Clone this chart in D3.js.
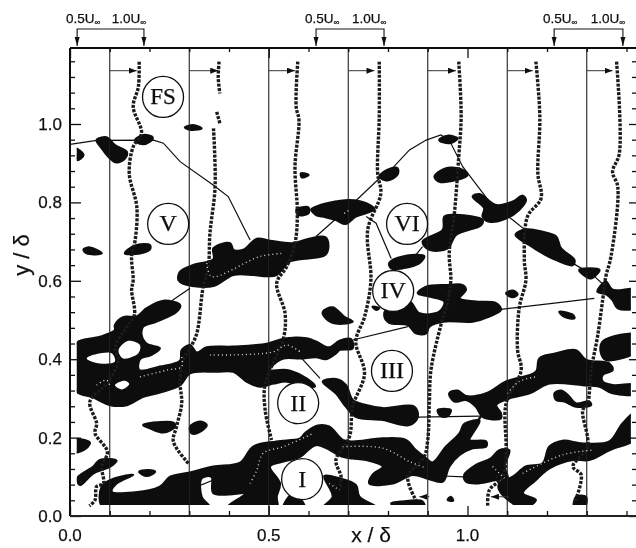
<!DOCTYPE html>
<html>
  <head>
    <meta charset="utf-8" />
    <title>Vorticity contours</title>
    <style>
      html, body { margin: 0; padding: 0; background: #fff; }
      svg { display: block; }
      text { font-family: "Liberation Sans", Arial, sans-serif; fill: #111; stroke: #111; stroke-width: 0.25; }
    </style>
  </head>
  <body>
  <div id="container"></div>
  <script src="https://cdn.jsdelivr.net/npm/d3@7"></script>
  <script type="text/javascript">

    var width = 636;
    var height = 548;

    // tick labels
    var xLabels = [0, 0.5, 1.0];
    var yLabels = [0, 0.2, 0.4, 0.6, 0.8, 1.0];
    var xMinor = [0.1, 0.2, 0.3, 0.4, 0.6, 0.7, 0.8, 0.9, 1.1, 1.2, 1.3, 1.4];
    var yMinor = [0.04, 0.08, 0.12, 0.16, 0.24, 0.28, 0.32, 0.36, 0.44, 0.48, 0.52, 0.56, 0.64, 0.68, 0.72, 0.76, 0.84, 0.88, 0.92, 0.96, 1.04, 1.08, 1.12, 1.16];

    // zero velocity station of each profile, also the thin vertical lines
    var stations = [0.1, 0.3, 0.5, 0.7, 0.9, 1.1, 1.3];
    // where the free stream arrow of each station ends, at y = 1.136
    var arrowEnds = [0.168, 0.373, 0.566, 0.766, 0.971, 1.164, 1.365];
    var arrowY = 1.136;
    // reversed flow arrows near the wall
    var wallArrows = [[0.904, 0.879], [1.105, 1.059]];
    var wallArrowY = 0.049;

    // velocity scale brackets above the plot: 0.5U, 1.0U
    var brackets = [[0.018, 0.186], [0.619, 0.790], [1.218, 1.391]];

    // region labels
    var regions = ['FS', 'V', 'VI', 'IV', 'III', 'II', 'I'];
    var regionX = [0.234, 0.247, 0.848, 0.813, 0.810, 0.574, 0.584];
    var regionY = [1.069, 0.745, 0.745, 0.574, 0.370, 0.288, 0.094];

    // velocity profiles
    var profile1 = [[.174,1.159],[.172,1.095],[.159,1.044],[.180,.976],[.159,.942],[.149,.874],[.168,.789],[.164,.704],[.155,.662],[.159,.602],[.155,.577],[.162,.513],[.143,.483],[.113,.428],[.122,.398],[.092,.338],[.050,.292],[.067,.236],[.063,.211],[.094,.164],[.080,.126],[.084,.083],[.067,.075],[.063,.041],[.049,.026]];
    var profile2a = [[.375,1.159],[.373,1.117],[.377,1.078]];
    var profile2b = [[.369,1.031],[.377,1.002]];
    var profile2c = [[.361,.989],[.365,.840],[.352,.721],[.348,.636],[.335,.585],[.319,.466],[.302,.428],[.281,.389],[.277,.338],[.281,.287],[.268,.228],[.260,.190],[.298,.134]];
    var profile3 = [[.573,1.159],[.569,1.044],[.576,1.010],[.566,.891],[.572,.772],[.566,.696],[.545,.636],[.520,.594],[.541,.517],[.537,.453],[.491,.338],[.491,.270],[.507,.194]];
    var profile4 = [[.778,1.159],[.778,1.019],[.774,.874],[.782,.823],[.749,.730],[.757,.602],[.741,.508],[.719,.445],[.741,.364],[.711,.279],[.703,.202],[.669,.143],[.682,.100],[.678,.066]];
    var profile5 = [[.978,1.159],[.984,1.019],[.978,.917],[.967,.772],[.954,.670],[.958,.602],[.950,.547],[.933,.487],[.908,.372],[.904,.287],[.900,.194],[.891,.151],[.850,.100],[.870,.041]];
    var profile6 = [[1.172,1.159],[1.182,1.019],[1.177,.874],[1.185,.810],[1.151,.764],[1.143,.653],[1.147,.602],[1.130,.530],[1.126,.423],[1.135,.372],[1.097,.287],[1.097,.168],[1.089,.100],[1.055,.066],[1.051,.024]];
    var profile7 = [[1.375,1.159],[1.382,.925],[1.365,.878],[1.378,.840],[1.361,.662],[1.348,.611],[1.340,.551],[1.327,.457],[1.311,.372],[1.302,.287],[1.290,.270],[1.302,.177],[1.265,.126],[1.286,.105],[1.269,.032]];

    // thin interface lines between the regions
    var lineFS = [[0,.948],[.067,.958],[.210,.959],[.235,.951],[.277,.904],[.361,.844],[.398,.815],[.453,.704]];
    var lineVI = [[.619,.713],[.703,.789],[.774,.857],[.799,.874],[.854,.934],[.896,.959],[.933,.972],[.954,.959],[.988,.891],[1.055,.802],[1.114,.755],[1.156,.721],[1.273,.640],[1.315,.615],[1.348,.585]];
    var lineVIb = [[.745,.764],[.770,.747],[.808,.657]];
    var lineVIc = [[.887,.687],[.870,.666]];
    var lineV = [[.256,.549],[.302,.581]];
    var lineIVa = [[.711,.449],[.850,.483]];
    var lineIVb = [[1.084,.527],[1.319,.555]];
    var lineIIIa = [[.875,.252],[1.030,.255]];
    var lineIIIb = [[.938,.102],[.992,.100]];
    var lineIIIc = [[1.038,.262],[.996,.194]];
    var lineII = [[.583,.402],[.629,.351]];
    var lineI = [[.310,.071],[.361,.092]];

    // vorticity contours, large bands
    var bandLeft = [[.017,.442],[.075,.457],[.113,.474],[.113,.487],[.134,.507],[.168,.509],[.193,.530],[.235,.549],[.277,.538],[.268,.521],[.218,.496],[.184,.483],[.180,.462],[.193,.439],[.226,.428],[.205,.411],[.176,.400],[.174,.372],[.226,.381],[.277,.396],[.281,.423],[.302,.436],[.319,.417],[.344,.430],[.411,.432],[.495,.439],[.537,.452],[.595,.453],[.619,.445],[.652,.430],[.678,.447],[.707,.451],[.711,.428],[.679,.424],[.669,.415],[.644,.400],[.619,.405],[.579,.402],[.537,.402],[.507,.381],[.503,.372],[.545,.372],[.595,.351],[.616,.330],[.579,.334],[.545,.343],[.512,.338],[.478,.330],[.444,.343],[.411,.368],[.369,.368],[.302,.364],[.277,.334],[.226,.315],[.184,.304],[.143,.283],[.101,.283],[.055,.304],[.017,.317],[.000,.380]];
    var bandLower = [[.080,.075],[.113,.096],[.159,.105],[.117,.083],[.105,.062],[.159,.060],[.226,.075],[.252,.100],[.302,.111],[.361,.126],[.428,.136],[.461,.177],[.520,.190],[.579,.198],[.591,.211],[.621,.230],[.652,.228],[.686,.194],[.711,.190],[.787,.198],[.845,.194],[.870,.168],[.896,.147],[.912,.136],[.946,.177],[.980,.211],[.992,.235],[1.030,.243],[1.013,.211],[1.005,.194],[1.047,.190],[1.047,.177],[1.013,.173],[.980,.156],[.954,.126],[.938,.088],[.904,.094],[.862,.105],[.812,.083],[.753,.083],[.761,.105],[.787,.126],[.745,.143],[.711,.147],[.686,.151],[.619,.181],[.579,.151],[.537,.139],[.503,.126],[.528,.083],[.520,.049],[.520,.020],[.394,.020],[.432,.049],[.444,.058],[.361,.058],[.356,.100],[.331,.096],[.331,.049],[.352,.020],[.084,.020]];
    var bandUpper = [[.277,.623],[.310,.640],[.361,.655],[.361,.683],[.403,.696],[.411,.679],[.436,.679],[.470,.707],[.503,.702],[.562,.696],[.604,.708],[.642,.711],[.650,.691],[.642,.666],[.553,.649],[.520,.615],[.495,.612],[.461,.615],[.411,.615],[.361,.587],[.293,.590],[.273,.602]];
    var bandIII = [[.636,.343],[.669,.349],[.694,.334],[.711,.296],[.745,.283],[.787,.275],[.866,.279],[.875,.253],[.854,.232],[.787,.245],[.719,.253],[.694,.279],[.669,.313]];
    var bandIV = [[.795,.526],[.854,.547],[.879,.517],[.929,.521],[.942,.547],[.904,.560],[.875,.568],[.896,.585],[.946,.589],[.988,.589],[.996,.577],[.980,.555],[1.021,.547],[1.072,.543],[1.084,.526],[1.055,.509],[1.013,.496],[.938,.496],[.904,.483],[.896,.466],[.870,.466],[.850,.487],[.803,.493],[.791,.509]];
    var bandRight = [[.954,.313],[.975,.320],[.996,.306],[1.047,.313],[1.097,.343],[1.172,.368],[1.181,.402],[1.223,.415],[1.273,.423],[1.298,.398],[1.357,.389],[1.365,.372],[1.340,.360],[1.340,.343],[1.365,.334],[1.430,.334],[1.430,.313],[1.365,.313],[1.332,.330],[1.290,.334],[1.206,.338],[1.156,.313],[1.105,.300],[1.072,.283],[1.084,.262],[1.084,.249],[1.038,.253],[1.021,.279],[.996,.296],[.967,.292]];
    var bandWall = [[1.080,.083],[1.114,.100],[1.147,.126],[1.189,.134],[1.206,.177],[1.239,.192],[1.290,.185],[1.357,.190],[1.390,.236],[1.430,.270],[1.430,.202],[1.357,.168],[1.306,.143],[1.265,.143],[1.206,.122],[1.172,.092],[1.139,.058],[1.172,.041],[1.139,.020],[1.114,.032],[1.080,.066]];

    // vorticity contours, smaller patches
    var patches = [
      [[.067,.959],[.092,.966],[.113,.946],[.143,.929],[.138,.912],[.117,.902],[.096,.917],[.080,.938]],
      [[.164,.959],[.185,.972],[.208,.966],[.201,.955],[.180,.949]],
      [[.013,.938],[.034,.921],[.018,.908]],
      [[.289,.991],[.310,.997],[.331,.989],[.306,.985]],
      [[.581,.874],[.600,.870],[.583,.864]],
      [[.034,.680],[.050,.685],[.080,.670],[.042,.670]],
      [[.138,.670],[.164,.690],[.201,.691],[.201,.680],[.176,.670]],
      [[.570,.782],[.600,.787],[.600,.772],[.574,.768]],
      [[.607,.782],[.619,.789],[.652,.799],[.703,.806],[.745,.798],[.766,.782],[.719,.764],[.694,.745],[.669,.755],[.636,.764],[.619,.768]],
      [[.778,.866],[.799,.883],[.824,.887],[.824,.871],[.799,.856]],
      [[.887,.700],[.938,.730],[.942,.764],[.971,.768],[1.038,.755],[1.034,.742],[.971,.717],[.950,.683],[.904,.679]],
      [[1.042,.785],[1.013,.815],[1.030,.821],[1.072,.793],[1.114,.802],[1.139,.817],[1.147,.806],[1.130,.781],[1.097,.759],[1.055,.751],[1.038,.764]],
      [[1.121,.717],[1.147,.731],[1.189,.725],[1.223,.713],[1.235,.683],[1.269,.653],[1.265,.640],[1.223,.653],[1.189,.670],[1.156,.691]],
      [[.917,.866],[.946,.887],[.988,.883],[1.000,.870],[.971,.857],[.929,.853]],
      [[.929,.959],[.950,.970],[.975,.963],[.954,.951]],
      [[.803,.645],[.837,.662],[.891,.663],[.879,.645],[.837,.632],[.808,.632]],
      [[.537,.020],[.562,.058],[.591,.020]],
      [[.640,.102],[.678,.096],[.719,.079],[.728,.049],[.774,.020],[.636,.020],[.661,.049]],
      [[.808,.032],[.837,.037],[.887,.037],[.891,.020],[.828,.020]],
      [[.950,.041],[.958,.049],[.964,.039]],
      [[.925,.270],[.958,.270],[.950,.255],[.933,.255]],
      [[.636,.521],[.661,.532],[.690,.508],[.711,.496],[.669,.491],[.644,.504]],
      [[.761,.534],[.778,.530],[.770,.526]],
      [[1.097,.568],[1.114,.575],[1.126,.566],[1.114,.558]],
      [[1.231,.521],[1.265,.513],[1.269,.504],[1.244,.508]],
      [[1.281,.628],[1.332,.628],[1.311,.606],[1.298,.611]],
      [[1.327,.572],[1.348,.598],[1.365,.577],[1.430,.577],[1.430,.534],[1.378,.530],[1.365,.551],[1.348,.566]],
      [[1.340,.445],[1.430,.462],[1.430,.423],[1.348,.398],[1.336,.415]],
      [[1.219,.313],[1.235,.320],[1.252,.309],[1.273,.287],[1.306,.292],[1.311,.283],[1.273,.279],[1.244,.292],[1.223,.296]],
      [[.992,.105],[1.021,.130],[1.059,.147],[1.080,.168],[1.105,.168],[1.093,.126],[1.101,.096],[1.072,.092],[1.021,.083],[.996,.088]],
      [[1.273,.049],[1.298,.049],[1.294,.020],[1.269,.020]],
      [[.184,.232],[.210,.238],[.260,.238],[.264,.228],[.235,.213],[.201,.224]],
      [[.302,.228],[.327,.241],[.344,.232],[.327,.215],[.306,.211]],
      [[.000,.194],[.050,.187],[.034,.168],[.000,.162]],
      [[.018,.096],[.059,.126],[.075,.143],[.117,.141],[.101,.126],[.059,.109],[.025,.079]],
      [[.174,.113],[.197,.117],[.214,.113],[.193,.102]]
    ];

    // white gaps inside the left band
    var holes = [
      [[.042,.402],[.067,.413],[.105,.415],[.113,.394],[.075,.389]],
      [[.122,.423],[.147,.447],[.176,.436],[.172,.415],[.134,.402]],
      [[.113,.334],[.138,.345],[.149,.337],[.130,.323]]
    ];

    // light speckled filaments in the black bands
    var filaments = [
      [[.686,.177],[.787,.173],[.854,.139],[.896,.122]],
      [[.067,.334],[.092,.347],[.101,.330]],
      [[.176,.355],[.243,.372],[.281,.381],[.281,.406]],
      [[.352,.411],[.411,.411],[.512,.419],[.545,.436],[.579,.419]],
      [[.453,.083],[.470,.117],[.486,.160],[.537,.177],[.612,.211]],
      [[1.101,.313],[1.130,.343],[1.172,.355]],
      [[1.063,.126],[1.093,.096]],
      [[1.139,.109],[1.239,.156],[1.315,.168]],
      [[.344,.645],[.356,.611],[.478,.662],[.537,.670]],
      [[.652,.083],[.678,.066]],
      [[.690,.772],[.703,.781]]
    ];

    var x = d3.scaleLinear().domain([0, 1.4]).range([70, 626.5]);
    var y = d3.scaleLinear().domain([0, 1]).range([516, 124]);

    var svg = d3.select('#container').append('svg')
      .attr('width', width).attr('height', height);

    // slightly soft, like the scanned print
    var defs = svg.append('defs');
    defs.append('filter').attr('id', 'soft')
      .append('feGaussianBlur').attr('stdDeviation', 0.35);
    defs.append('marker').attr('id', 'tip')
      .attr('viewBox', '0 0 8 6').attr('refX', 8).attr('refY', 3)
      .attr('markerWidth', 8).attr('markerHeight', 6)
      .attr('markerUnits', 'userSpaceOnUse').attr('orient', 'auto')
      .append('path').attr('d', 'M0,0L8,3L0,6Z').attr('fill', '#111');
    // contours stop flat at the edges of the measured field
    defs.append('clipPath').attr('id', 'field').append('rect')
      .attr('x', x(0.017)).attr('y', 48)
      .attr('width', x(1.411) - x(0.017)).attr('height', y(0.028) - 48);

    var g = svg.append('g').attr('filter', 'url(#soft)');

    var line = d3.line().x(function(d){return x(d[0]);}).y(function(d){return y(d[1]);});
    var blob = d3.line().x(function(d){return x(d[0]);}).y(function(d){return y(d[1]);})
      .curve(d3.curveCatmullRomClosed.alpha(0.5));
    var wavy = d3.line().x(function(d){return x(d[0]);}).y(function(d){return y(d[1]);})
      .curve(d3.curveCatmullRom.alpha(0.5));

    // contours
    var bands = [bandLeft, bandLower, bandUpper, bandIII, bandIV, bandRight, bandWall].concat(patches);
    var field = g.append('g').attr('clip-path', 'url(#field)');
    field.append('g').selectAll('path').data(bands).enter().append('path')
      .attr('d', blob).attr('fill', '#0a0a0a').attr('stroke', '#0a0a0a').attr('stroke-width', 2.2);
    field.append('g').selectAll('path').data(holes).enter().append('path')
      .attr('d', blob).attr('fill', '#fff');

    // station lines
    g.append('g').selectAll('line').data(stations).enter().append('line')
      .attr('x1', function(d){return x(d);}).attr('x2', function(d){return x(d);})
      .attr('y1', y.range()[0]).attr('y2', 48)
      .attr('stroke', '#222').attr('stroke-width', 1.1);

    // interfaces
    var interfaces = [lineFS, lineVI, lineVIb, lineVIc, lineV, lineIVa, lineIVb, lineIIIa, lineIIIb, lineII, lineI];
    g.append('g').selectAll('path').data(interfaces).enter().append('path')
      .attr('d', line).attr('fill', 'none').attr('stroke', '#111').attr('stroke-width', 1.2);
    g.append('path').datum(lineIIIc).attr('d', line)
      .attr('fill', 'none').attr('stroke', '#111').attr('stroke-width', 2.4);

    // velocity profiles, drawn as rows of square dots
    var profiles = [profile1, profile2a, profile2b, profile2c, profile3, profile4, profile5, profile6, profile7];
    g.append('g').selectAll('path').data(profiles).enter().append('path')
      .attr('d', wavy).attr('fill', 'none').attr('stroke', '#1a1a1a')
      .attr('stroke-width', 3.4).attr('stroke-dasharray', '3 1.4');

    // speckle
    g.append('g').selectAll('path').data(filaments).enter().append('path')
      .attr('d', wavy).attr('fill', 'none').attr('stroke', '#ddd')
      .attr('stroke-width', 1.4).attr('stroke-dasharray', '1 3');

    // free stream arrows
    g.append('g').selectAll('line').data(stations).enter().append('line')
      .attr('x1', function(d){return x(d);})
      .attr('x2', function(d,i){return x(arrowEnds[i]);})
      .attr('y1', y(arrowY)).attr('y2', y(arrowY))
      .attr('stroke', '#333').attr('stroke-width', 1).attr('marker-end', 'url(#tip)');
    g.append('g').selectAll('line').data(wallArrows).enter().append('line')
      .attr('x1', function(d){return x(d[0]);}).attr('x2', function(d){return x(d[1]);})
      .attr('y1', y(wallArrowY)).attr('y2', y(wallArrowY))
      .attr('stroke', '#333').attr('stroke-width', 1).attr('marker-end', 'url(#tip)');

    // axes
    var frame = g.append('g');
    function drawAxis(axisFn, pos, values, size) {
      var a = frame.append('g').attr('transform', pos)
        .call(axisFn.tickValues(values).tickSize(size).tickFormat(''));
      a.selectAll('.domain').remove();
      a.selectAll('line').attr('stroke', '#111').attr('stroke-width', 1.3);
    }
    drawAxis(d3.axisBottom(x), 'translate(0,516)', xMinor, -5);
    drawAxis(d3.axisBottom(x), 'translate(0,516)', xLabels, -10);
    drawAxis(d3.axisTop(x), 'translate(0,48)', xMinor, -4);
    drawAxis(d3.axisTop(x), 'translate(0,48)', xLabels, -10);
    drawAxis(d3.axisLeft(y), 'translate(70,0)', yMinor, -5);
    drawAxis(d3.axisLeft(y), 'translate(70,0)', yLabels, -11);
    drawAxis(d3.axisRight(y), 'translate(636,0)', yMinor, -4);
    drawAxis(d3.axisRight(y), 'translate(636,0)', yLabels, -7);

    frame.append('path').attr('d', 'M70,48V516').attr('stroke', '#111').attr('stroke-width', 2).attr('fill', 'none');
    frame.append('path').attr('d', 'M70,48H636').attr('stroke', '#111').attr('stroke-width', 2).attr('fill', 'none');
    frame.append('path').attr('d', 'M70,516H636').attr('stroke', '#222').attr('stroke-width', 1.8).attr('fill', 'none');

    // region circles
    var region = g.append('g').selectAll('g').data(regions).enter().append('g')
      .attr('transform', function(d,i){return 'translate(' + x(regionX[i]) + ',' + y(regionY[i]) + ')';});
    region.append('circle').attr('r', 20.5)
      .attr('fill', '#fff').attr('stroke', '#111').attr('stroke-width', 1.3);
    region.append('text').text(function(d){return d;})
      .attr('text-anchor', 'middle').attr('dy', 7.5)
      .style('font-family', '"Liberation Serif", serif')
      .style('font-size', function(d){return d === 'FS' ? '23px' : '24px';});

    // tick labels
    g.append('g').selectAll('text').data(xLabels).enter().append('text')
      .attr('x', function(d){return x(d);}).attr('y', 541)
      .attr('text-anchor', 'middle').style('font-size', '17px')
      .text(function(d){return d3.format('.1f')(d);});
    g.append('g').selectAll('text').data(yLabels).enter().append('text')
      .attr('x', 62).attr('y', function(d){return y(d) + 6;})
      .attr('text-anchor', 'end').style('font-size', '17px')
      .text(function(d){return d3.format('.1f')(d);});

    // axis titles
    g.append('text').attr('x', 371).attr('y', 542).attr('text-anchor', 'middle')
      .style('font-size', '21px').text('x / δ');
    g.append('text').attr('transform', 'translate(29,255) rotate(-90)').attr('text-anchor', 'middle')
      .style('font-size', '22px').text('y / δ');

    // velocity scale brackets
    var bracket = g.append('g').selectAll('g').data(brackets).enter().append('g');
    bracket.append('path')
      .attr('d', function(d){return 'M' + x(d[0]) + ',46V29H' + x(d[1]) + 'V46';})
      .attr('fill', 'none').attr('stroke', '#111').attr('stroke-width', 1.1);
    bracket.selectAll('.head').data(function(d){return d;}).enter().append('path').attr('class', 'head')
      .attr('d', function(d){return 'M' + (x(d) - 2.5) + ',37L' + x(d) + ',46L' + (x(d) + 2.5) + ',37Z';})
      .attr('fill', '#111');
    var scaleLabels = ['0.5', '1.0'];
    bracket.each(function(d){
      var b = d3.select(this);
      scaleLabels.forEach(function(s, i){
        var t = b.append('text').attr('x', x(d[i]) + (i === 0 ? 6 : -15)).attr('y', 23)
          .attr('text-anchor', 'middle').style('font-size', '13.5px');
        t.append('tspan').text(s + 'U');
        t.append('tspan').attr('dy', 2).style('font-size', '8px').text('∞');
      });
    });

  </script>
  </body>
</html>
